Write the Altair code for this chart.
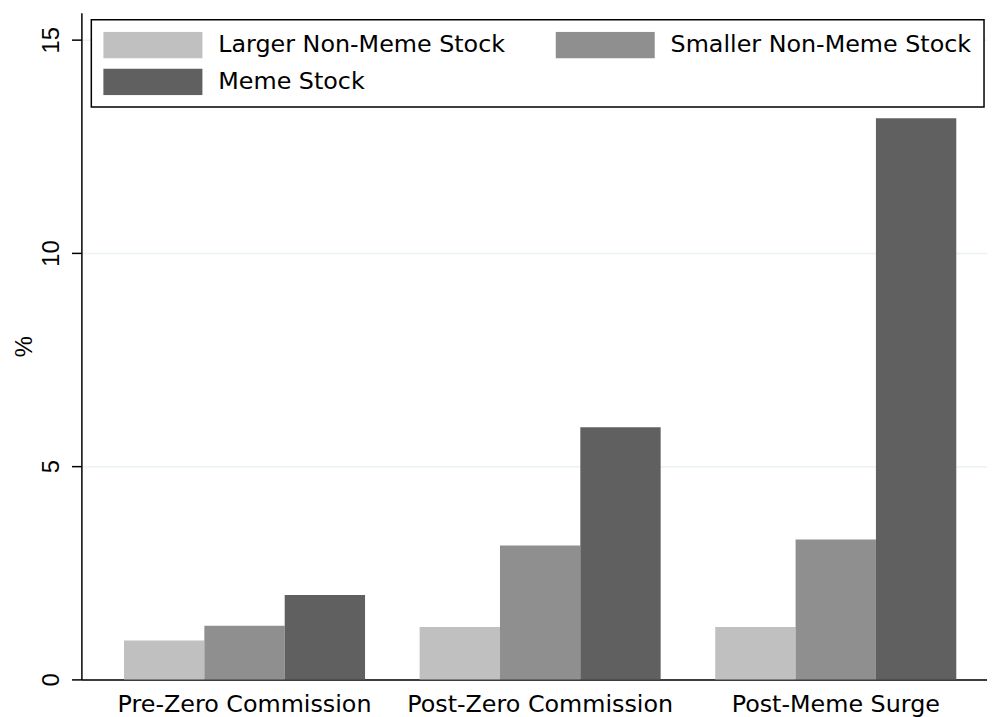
import altair as alt
import pandas as pd

periods = ["Pre-Zero Commission", "Post-Zero Commission", "Post-Meme Surge"]
series = ["Larger Non-Meme Stock", "Smaller Non-Meme Stock", "Meme Stock"]
colors = ["#c0c0c0", "#8f8f8f", "#606060"]
larger = [0.91, 1.23, 1.23]
smaller = [1.26, 3.14, 3.28]
meme = [1.98, 5.91, 13.16]
y_ticks = [0, 5, 10, 15]

rows = []
for i, p in enumerate(periods):
    for s, vals in zip(series, [larger, smaller, meme]):
        rows.append({"period": p, "series": s, "value": vals[i]})
df = pd.DataFrame(rows)

FONT_V = "Liberation Sans"
FONT_H = "DejaVu Sans"

chart = alt.Chart(df).mark_bar().encode(
    x=alt.X("period:N", sort=periods, title=None,
            scale=alt.Scale(paddingInner=0.1846, paddingOuter=0.124, align=0.581),
            axis=alt.Axis(labelAngle=0, ticks=False, domainColor="black", domainWidth=1.5,
                          labelFontSize=24, labelFont=FONT_H, labelColor="black",
                          labelPadding=13, labelLimit=0, grid=False)),
    xOffset=alt.XOffset("series:N", sort=series,
                        scale=alt.Scale(paddingInner=0, paddingOuter=0)),
    y=alt.Y("value:Q", title="%",
            scale=alt.Scale(domain=[0, 15.63], nice=False),
            axis=alt.Axis(values=y_ticks, labelAngle=-90, labelAlign="center",
                          labelBaseline="bottom", labelFontSize=24, labelFont=FONT_V,
                          labelColor="black", labelPadding=8, tickSize=10,
                          tickColor="black", tickWidth=1.5, domainColor="black",
                          domainWidth=1.5, titleFontSize=24, titleFont=FONT_V,
                          titleFontWeight="normal", titleColor="black", titlePadding=3,
                          gridColor="#eaf2f3", gridWidth=1.5)),
    color=alt.Color("series:N", sort=series,
                    scale=alt.Scale(domain=series, range=colors),
                    legend=alt.Legend(title=None, orient="none", legendX=10, legendY=7,
                                      direction="horizontal",
                                      columns=2, columnPadding=50, rowPadding=10,
                                      clipHeight=27,
                                      symbolType="M-1,-0.27L1,-0.27L1,0.27L-1,0.27Z",
                                      symbolSize=10000, symbolStrokeWidth=0,
                                      symbolOffset=0, labelOffset=16,
                                      labelFontSize=24, labelFont=FONT_H, labelColor="black",
                                      labelLimit=0, strokeColor="black", padding=12,
                                      fillColor="white")),
).properties(
    width=913, height=672,
    autosize=alt.AutoSizeParams(type="none"),
    padding={"left": 74, "top": 2, "right": 0, "bottom": 35},
).configure_view(stroke="transparent").configure_axis(
    gridOpacity=1
).configure_legend(strokeWidth=1.5)

chart.save("out.html", embed_options={"renderer": "svg", "actions": False})
